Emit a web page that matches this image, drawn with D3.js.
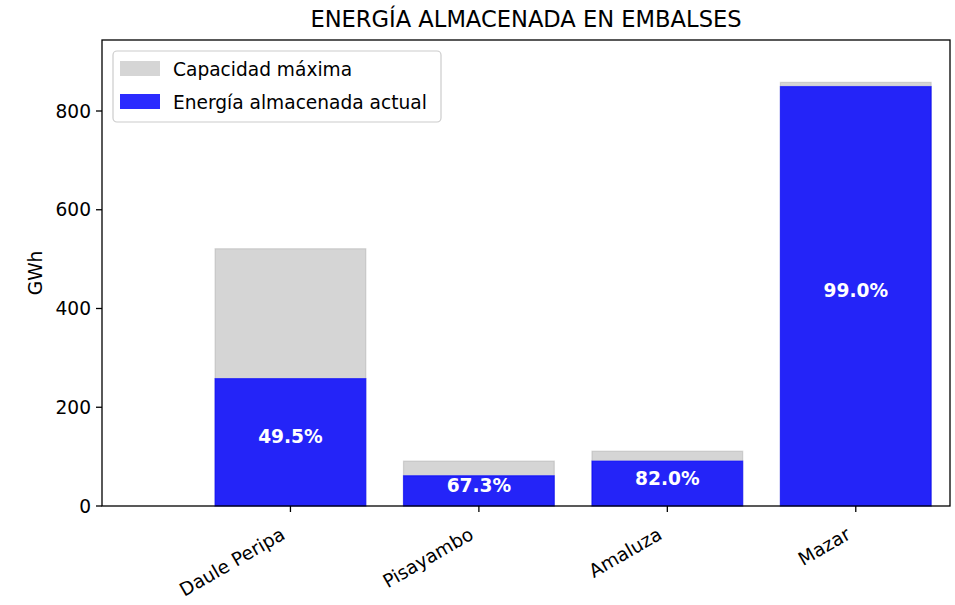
<!DOCTYPE html>
<html><head><meta charset="utf-8">
<script src="https://cdn.jsdelivr.net/npm/d3@7"></script>
<style>body{margin:0;background:#fff}svg{display:block}text{font-family:"DejaVu Sans",sans-serif}</style>
</head><body>
<svg id="c" width="955" height="605"></svg>
<script>
const categories = ["Daule Peripa","Pisayambo","Amaluza","Mazar"];
const capacidad = [521, 91, 111, 858];
const actual = [258, 61.3, 91, 849.5];
const porcentajes = ["49.5%","67.3%","82.0%","99.0%"];
const yTicks = [0,200,400,600,800];

const svg = d3.select("#c");
const L=102,R=950,T=40,B=506;
const FS = 18.6;
const x = d3.scaleLinear().domain([-1,3.5]).range([L,R]);
const y = d3.scaleLinear().domain([0, d3.max(capacidad)*1.1]).range([B,T]);
const bw = 0.8;

svg.append("text").attr("x",(L+R)/2).attr("y",27).attr("text-anchor","middle")
  .attr("font-size",22.6).attr("fill","#000").text("ENERGÍA ALMACENADA EN EMBALSES");

const g = svg.append("g");
g.selectAll("rect.cap").data(capacidad).join("rect").attr("class","cap")
  .attr("x",(d,i)=>x(i-bw/2)).attr("width",x(bw)-x(0))
  .attr("y",d=>y(d)).attr("height",d=>B-y(d))
  .attr("fill","#d3d3d3").attr("fill-opacity",0.95)
  .attr("stroke","#999").attr("stroke-opacity",0.35).attr("stroke-width",1.2);
g.selectAll("rect.act").data(actual).join("rect").attr("class","act")
  .attr("x",(d,i)=>x(i-bw/2)).attr("width",x(bw)-x(0))
  .attr("y",d=>y(d)).attr("height",d=>B-y(d))
  .attr("fill","#0000ff").attr("fill-opacity",0.83)
  .attr("stroke","#0000ff").attr("stroke-opacity",0.6).attr("stroke-width",1.2);
g.selectAll("text.pct").data(actual).join("text").attr("class","pct")
  .attr("x",(d,i)=>x(i)).attr("y",d=>y(d/2)+1)
  .attr("text-anchor","middle").attr("font-size",FS).attr("font-weight","bold")
  .attr("fill","#fff").text((d,i)=>porcentajes[i]);

// axes
const ax = svg.append("g");
ax.append("rect").attr("x",L).attr("y",T).attr("width",R-L).attr("height",B-T)
  .attr("fill","none").attr("stroke","#000").attr("stroke-width",1.3);
yTicks.forEach(v=>{
  ax.append("line").attr("x1",L-6).attr("x2",L).attr("y1",y(v)).attr("y2",y(v)).attr("stroke","#000").attr("stroke-width",1.3);
  ax.append("text").attr("x",L-11).attr("y",y(v)).attr("dy","0.36em").attr("text-anchor","end")
    .attr("font-size",FS).attr("fill","#000").text(v);
});
categories.forEach((c,i)=>{
  ax.append("line").attr("x1",x(i)).attr("x2",x(i)).attr("y1",B).attr("y2",B+6).attr("stroke","#000").attr("stroke-width",1.3);
  ax.append("text").attr("transform",`translate(${x(i)-4},${B+32}) rotate(-30)`)
    .attr("text-anchor","end").attr("font-size",FS).attr("fill","#000").text(c);
});
svg.append("text").attr("transform",`translate(42,${(T+B)/2}) rotate(-90)`)
  .attr("text-anchor","middle").attr("font-size",FS).attr("fill","#000").text("GWh");

// legend
const lg = svg.append("g");
lg.append("rect").attr("x",113).attr("y",51).attr("width",328).attr("height",71).attr("rx",4)
  .attr("fill","#fff").attr("fill-opacity",0.8).attr("stroke","#ccc").attr("stroke-width",1.2);
const legItems = [["Capacidad máxima","#d3d3d3",0.95],["Energía almacenada actual","#0000ff",0.83]];
legItems.forEach((it,i)=>{
  const yy = 61 + i*33;
  lg.append("rect").attr("x",120).attr("y",yy).attr("width",40).attr("height",15)
    .attr("fill",it[1]).attr("fill-opacity",it[2]);
  lg.append("text").attr("x",173).attr("y",yy+15).attr("font-size",FS).attr("fill","#000").text(it[0]);
});
</script>
</body></html>
